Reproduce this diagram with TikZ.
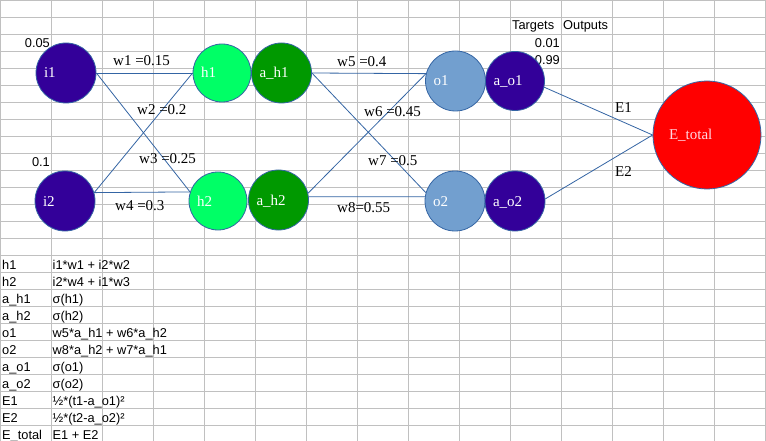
\documentclass[tikz,border=0pt]{standalone}
\usepackage{fontspec}
\setmainfont{Liberation Serif}
\newfontfamily\cellfont{Liberation Sans}
\usepackage{tikz}
\usetikzlibrary{positioning}
\definecolor{incol}{RGB}{51,0,153}
\definecolor{hidcol}{RGB}{0,255,102}
\definecolor{actcol}{RGB}{0,153,0}
\definecolor{outcol}{RGB}{114,159,207}
\definecolor{errcol}{RGB}{255,0,0}
\definecolor{linecol}{RGB}{52,101,164}
\definecolor{gridcol}{RGB}{192,192,192}
\definecolor{pinkcol}{RGB}{255,215,225}
\tikzset{
  neuron/.style={circle, draw=linecol, line width=0.8pt, inner sep=0pt,
    text=white, align=left, text height=11pt, text depth=1pt,
    font=\fontsize{15}{18}\selectfont},
  wlabel/.style={anchor=base west, inner sep=0pt, font=\fontsize{15}{18}\selectfont},
  cell/.style={anchor=base west, inner sep=0pt, font=\cellfont\fontsize{12.8}{15}\selectfont},
  conn/.style={draw=linecol, line width=0.8pt}
}

\begin{document}
\begin{tikzpicture}[x=1pt,y=-1pt]

\useasboundingbox (0,0) rectangle (766,441);
\fill[white] (0,0) rectangle (766,441);

% Sheet grid
\foreach \x in {0,...,15}
  \draw[gridcol, line width=1pt] (51*\x+0.5,0) -- (51*\x+0.5,441);
\foreach \y in {0,...,25}
  \draw[gridcol, line width=1pt] (0,17*\y+0.5) -- (766,17*\y+0.5);

% Cell values
\node[cell, anchor=base east] (vi1) at (50,48) {0.05};
\node[cell, anchor=base east] (vi2) at (50,167) {0.1};
\node[cell] (targets) at (512,30) {Targets};
\node[cell] (outputs) at (563,30) {Outputs};
\node[cell, anchor=base east] (t1) at (560,48) {0.01};
\node[cell, anchor=base east] (t2) at (560,65) {0.99};

% Formula table
\foreach \k/\a/\b in {15/h1/{i1*w1 + i2*w2}, 16/h2/{i2*w4 + i1*w3},
    17/a\_h1/{σ(h1)}, 18/a\_h2/{σ(h2)},
    19/o1/{w5*a\_h1 + w6*a\_h2}, 20/o2/{w8*a\_h2 + w7*a\_h1},
    21/a\_o1/{σ(o1)}, 22/a\_o2/{σ(o2)},
    23/E1/{½*(t1-a\_o1)²}, 24/E2/{½*(t2-a\_o2)²}, 25/E\_total/{E1 + E2}}{
  \node[cell] (ca\k) at (2,17*\k+14) {\a};
  \node[cell] (cb\k) at (52.5,17*\k+14) {\b};
}

% Inputs
\node[neuron, fill=incol, minimum size=60pt, text width=44pt] (i1) at (66,73) {i1};
\node[neuron, fill=incol, minimum size=60pt, text width=44pt] (i2) at (65,201) {i2};

% Hidden layer
\node[neuron, fill=hidcol, minimum size=58pt, text width=42pt] (h1) at (222,73) {h1};
\node[neuron, fill=hidcol, minimum size=58pt, text width=42pt] (h2) at (218,201) {h2};
\node[neuron, fill=actcol, minimum size=60pt, text width=44pt] (ah1) at (281.5,73) {a\_h1};
\node[neuron, fill=actcol, minimum size=60pt, text width=44pt] (ah2) at (278.5,200) {a\_h2};

% Output layer
\node[neuron, fill=outcol, minimum size=60pt, text width=44pt] (o1) at (455.5,81) {o1};
\node[neuron, fill=outcol, minimum size=60pt, text width=44pt] (o2) at (455,201) {o2};
\node[neuron, fill=incol, minimum size=59pt, text width=43pt] (ao1) at (515,81) {a\_o1};
\node[neuron, fill=incol, minimum size=60pt, text width=44pt] (ao2) at (515,201) {a\_o2};

% Total error
\node[neuron, fill=errcol, text=pinkcol, minimum size=108pt, text width=76pt] (etot) at (707,135) {E\_total};

% Weights
\draw[conn] (i1.east) -- (h1.west);
\draw[conn] (i1.east) -- (h2.162);
\draw[conn] (i2.16) -- (h1.west);
\draw[conn] (i2.16) -- (h2.162);
\draw[conn] (ah1.east) -- (o1.166);
\draw[conn] (ah1.east) -- (o2.164);
\draw[conn] (ah2.13) -- (o1.166);
\draw[conn] (ah2.6) -- (o2.172);
\draw[conn] (ao1.-12) -- (etot.west);
\draw[conn] (ao2.4) -- (etot.west);

% Weight labels
\node[wlabel] (w1) at (113,65.5) {w1 =0.15};
\node[wlabel] (w2) at (137,115) {w2 =0.2};
\node[wlabel] (w3) at (139,164) {w3 =0.25};
\node[wlabel] (w4) at (115,211) {w4 =0.3};
\node[wlabel] (w5) at (337,67) {w5 =0.4};
\node[wlabel] (w6) at (364,117) {w6 =0.45};
\node[wlabel] (w7) at (368,166) {w7 =0.5};
\node[wlabel] (w8) at (337,212) {w8=0.55};
\node[wlabel] (e1) at (615,113) {E1};
\node[wlabel] (e2) at (615,176) {E2};

\end{tikzpicture}
\end{document}
